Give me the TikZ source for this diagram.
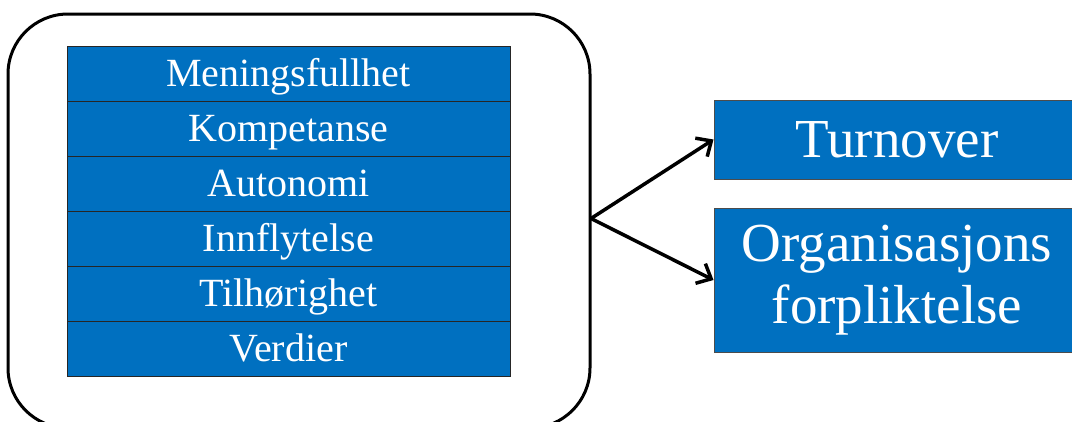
\documentclass[tikz,border=0pt]{standalone}
\usepackage{fontspec}
\setmainfont{Liberation Serif}
\usetikzlibrary{arrows.meta}
\definecolor{boxblue}{HTML}{0070C0}
\tikzset{
  cell/.style={draw=black!85, line width=1pt, fill=boxblue, minimum width=443pt, minimum height=55pt, inner sep=0pt, font=\fontsize{40}{44}\selectfont, text=white, text height=26.5pt, text depth=0pt},
  outbox/.style={draw=black!70, line width=1pt, fill=boxblue, inner sep=0pt, text=white, font=\fontsize{55}{62}\selectfont, align=center},
  frame/.style={draw=black, line width=3pt, rounded corners=60pt, minimum width=582pt, minimum height=414pt, inner sep=0pt},
  arr/.style={line width=3.5pt, -{Straight Barb[length=12pt,width=22pt,line width=3.5pt]}}
}
\begin{document}
\begin{tikzpicture}[x=1pt,y=-1pt]
\useasboundingbox (0,0) rectangle (1072,421);
\clip (0,0) rectangle (1072,421);
\fill[white] (0,0) rectangle (1072,421);
\node[frame] (frame) at (299,221) {};
\node[cell] (c1) at (288.5,73.5) {Meningsfullhet};
\node[cell] (c2) at (288.5,128.5) {Kompetanse};
\node[cell] (c3) at (288.5,183.5) {Autonomi};
\node[cell] (c4) at (288.5,238.5) {Innflytelse};
\node[cell] (c5) at (288.5,293.5) {Tilhørighet};
\node[cell] (c6) at (288.5,348.5) {Verdier};
\node[outbox, minimum width=366pt, minimum height=79pt, text height=36.4pt, text depth=0pt] (turn) at (897,139.5) {Turnover};
\node[outbox, minimum width=366pt, minimum height=144pt] (org) at (897,280) {Organisasjons\\forpliktelse};
\coordinate (src) at (591,218.5);
\draw[arr] (src) -- (turn.west);
\draw[arr] (src) -- (org.west);
\end{tikzpicture}
\end{document}
